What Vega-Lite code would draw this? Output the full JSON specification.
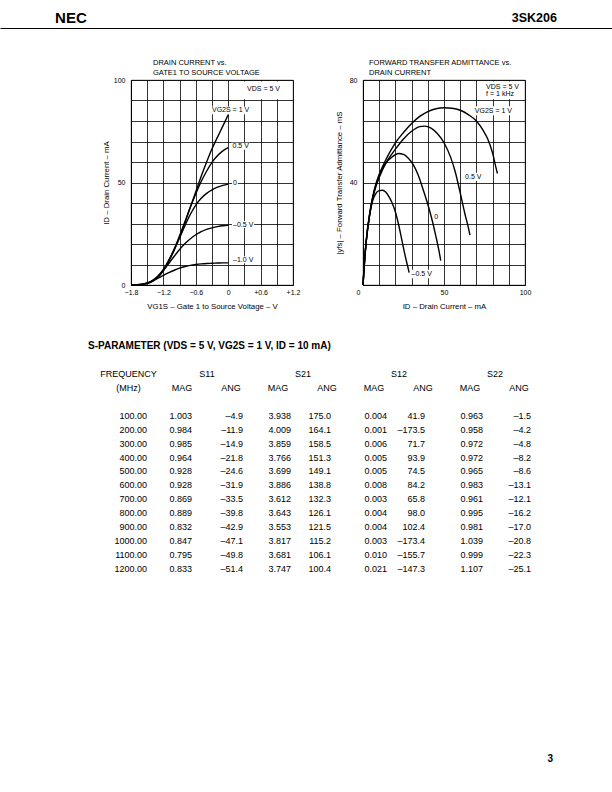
{
  "$schema": "https://vega.github.io/schema/vega-lite/v6.json",
  "padding": 0,
  "background": "white",
  "spacing": 30,
  "bounds": "full",
  "datasets": {
    "curves1": [
      {"s":"1 V","v":-1.8,"i":0},{"s":"1 V","v":-1.6,"i":0.2},{"s":"1 V","v":-1.5,"i":0.7},{"s":"1 V","v":-1.4,"i":1.8},{"s":"1 V","v":-1.3,"i":3.8},{"s":"1 V","v":-1.2,"i":7},{"s":"1 V","v":-1.1,"i":11.5},{"s":"1 V","v":-1.0,"i":17},{"s":"1 V","v":-0.9,"i":23.5},{"s":"1 V","v":-0.8,"i":30.5},{"s":"1 V","v":-0.7,"i":38},{"s":"1 V","v":-0.6,"i":45.5},{"s":"1 V","v":-0.5,"i":53},{"s":"1 V","v":-0.4,"i":60},{"s":"1 V","v":-0.3,"i":66.5},{"s":"1 V","v":-0.2,"i":72},{"s":"1 V","v":-0.1,"i":77.5},{"s":"1 V","v":0,"i":83},
      {"s":"0.5 V","v":-1.8,"i":0},{"s":"0.5 V","v":-1.6,"i":0.2},{"s":"0.5 V","v":-1.5,"i":0.8},{"s":"0.5 V","v":-1.4,"i":2},{"s":"0.5 V","v":-1.3,"i":4},{"s":"0.5 V","v":-1.2,"i":7.3},{"s":"0.5 V","v":-1.1,"i":12},{"s":"0.5 V","v":-1.0,"i":17.5},{"s":"0.5 V","v":-0.9,"i":24},{"s":"0.5 V","v":-0.8,"i":31},{"s":"0.5 V","v":-0.7,"i":38},{"s":"0.5 V","v":-0.6,"i":44.5},{"s":"0.5 V","v":-0.5,"i":50.5},{"s":"0.5 V","v":-0.4,"i":55.5},{"s":"0.5 V","v":-0.3,"i":59.8},{"s":"0.5 V","v":-0.2,"i":63},{"s":"0.5 V","v":-0.1,"i":65.4},{"s":"0.5 V","v":0,"i":67},
      {"s":"0 V","v":-1.8,"i":0},{"s":"0 V","v":-1.6,"i":0.3},{"s":"0 V","v":-1.5,"i":0.9},{"s":"0 V","v":-1.4,"i":2.2},{"s":"0 V","v":-1.3,"i":4.3},{"s":"0 V","v":-1.2,"i":7.6},{"s":"0 V","v":-1.1,"i":12},{"s":"0 V","v":-1.0,"i":17.3},{"s":"0 V","v":-0.9,"i":23},{"s":"0 V","v":-0.8,"i":29},{"s":"0 V","v":-0.7,"i":34.5},{"s":"0 V","v":-0.6,"i":39},{"s":"0 V","v":-0.5,"i":42.3},{"s":"0 V","v":-0.4,"i":44.7},{"s":"0 V","v":-0.3,"i":46.4},{"s":"0 V","v":-0.2,"i":47.7},{"s":"0 V","v":-0.1,"i":48.6},{"s":"0 V","v":0,"i":49.2},
      {"s":"-0.5 V","v":-1.8,"i":0},{"s":"-0.5 V","v":-1.6,"i":0.3},{"s":"-0.5 V","v":-1.5,"i":1},{"s":"-0.5 V","v":-1.4,"i":2.3},{"s":"-0.5 V","v":-1.3,"i":4.4},{"s":"-0.5 V","v":-1.2,"i":7.2},{"s":"-0.5 V","v":-1.1,"i":10.5},{"s":"-0.5 V","v":-1.0,"i":14},{"s":"-0.5 V","v":-0.9,"i":17.3},{"s":"-0.5 V","v":-0.8,"i":20.2},{"s":"-0.5 V","v":-0.7,"i":22.6},{"s":"-0.5 V","v":-0.6,"i":24.5},{"s":"-0.5 V","v":-0.5,"i":26},{"s":"-0.5 V","v":-0.4,"i":27.1},{"s":"-0.5 V","v":-0.3,"i":27.9},{"s":"-0.5 V","v":-0.2,"i":28.5},{"s":"-0.5 V","v":-0.1,"i":28.9},{"s":"-0.5 V","v":0,"i":29.1},
      {"s":"-1.0 V","v":-1.8,"i":0},{"s":"-1.0 V","v":-1.6,"i":0.4},{"s":"-1.0 V","v":-1.5,"i":1},{"s":"-1.0 V","v":-1.4,"i":2},{"s":"-1.0 V","v":-1.3,"i":3.3},{"s":"-1.0 V","v":-1.2,"i":4.7},{"s":"-1.0 V","v":-1.1,"i":6},{"s":"-1.0 V","v":-1.0,"i":7.2},{"s":"-1.0 V","v":-0.9,"i":8.2},{"s":"-1.0 V","v":-0.8,"i":9},{"s":"-1.0 V","v":-0.7,"i":9.6},{"s":"-1.0 V","v":-0.6,"i":10},{"s":"-1.0 V","v":-0.5,"i":10.3},{"s":"-1.0 V","v":-0.4,"i":10.5},{"s":"-1.0 V","v":-0.3,"i":10.6},{"s":"-1.0 V","v":-0.2,"i":10.7},{"s":"-1.0 V","v":-0.1,"i":10.8},{"s":"-1.0 V","v":0,"i":10.8}
    ],
    "labels1": [
      {"t":"VDS = 5 V","x":0.35,"y":95.4},
      {"t":"VG2S = 1 V","x":-0.3,"y":85.2},
      {"t":"0.5 V","x":0.08,"y":67.7},
      {"t":"0","x":0.09,"y":50},
      {"t":"–0.5 V","x":0.09,"y":29.5},
      {"t":"–1.0 V","x":0.09,"y":12.3}
    ],
    "boxes1": [
      {"x1":0.27,"x2":1.185,"y1":90.6,"y2":99.3},
      {"x1":-0.32,"x2":0.4,"y1":83.3,"y2":87.1},
      {"x1":0.06,"x2":0.4,"y1":66,"y2":69.4},
      {"x1":0.07,"x2":0.18,"y1":48.3,"y2":51.7},
      {"x1":0.07,"x2":0.48,"y1":27.8,"y2":31.2},
      {"x1":0.07,"x2":0.48,"y1":10.6,"y2":14}
    ],
    "curves2": [
      {"s":"1 V","d":0,"y":0},{"s":"1 V","d":1,"y":10},{"s":"1 V","d":2,"y":17.5},{"s":"1 V","d":4,"y":27},{"s":"1 V","d":6,"y":34},{"s":"1 V","d":8,"y":39},{"s":"1 V","d":10,"y":43},{"s":"1 V","d":15,"y":50},{"s":"1 V","d":20,"y":55.5},{"s":"1 V","d":25,"y":59.5},{"s":"1 V","d":30,"y":63},{"s":"1 V","d":35,"y":65.8},{"s":"1 V","d":40,"y":67.7},{"s":"1 V","d":45,"y":68.8},{"s":"1 V","d":50,"y":69.2},{"s":"1 V","d":55,"y":69},{"s":"1 V","d":60,"y":68.2},{"s":"1 V","d":65,"y":66.5},{"s":"1 V","d":70,"y":64},{"s":"1 V","d":74,"y":60.5},{"s":"1 V","d":77,"y":57},{"s":"1 V","d":80,"y":51.5},{"s":"1 V","d":82,"y":46},{"s":"1 V","d":83,"y":43.5},
      {"s":"0.5 V","d":0,"y":0},{"s":"0.5 V","d":1,"y":9.5},{"s":"0.5 V","d":2,"y":17},{"s":"0.5 V","d":4,"y":27},{"s":"0.5 V","d":6,"y":34},{"s":"0.5 V","d":8,"y":38.5},{"s":"0.5 V","d":10,"y":42},{"s":"0.5 V","d":15,"y":48.5},{"s":"0.5 V","d":20,"y":53},{"s":"0.5 V","d":25,"y":57},{"s":"0.5 V","d":30,"y":60},{"s":"0.5 V","d":35,"y":61.8},{"s":"0.5 V","d":38,"y":62},{"s":"0.5 V","d":42,"y":61.2},{"s":"0.5 V","d":46,"y":59},{"s":"0.5 V","d":50,"y":55.5},{"s":"0.5 V","d":54,"y":50},{"s":"0.5 V","d":57,"y":44},{"s":"0.5 V","d":60,"y":36},{"s":"0.5 V","d":63,"y":27.5},{"s":"0.5 V","d":65,"y":22.5},{"s":"0.5 V","d":66,"y":19.5},
      {"s":"0 V","d":0,"y":0},{"s":"0 V","d":1,"y":9.5},{"s":"0 V","d":2,"y":17},{"s":"0 V","d":4,"y":27.5},{"s":"0 V","d":6,"y":34.5},{"s":"0 V","d":8,"y":39.5},{"s":"0 V","d":10,"y":43},{"s":"0 V","d":14,"y":47.5},{"s":"0 V","d":18,"y":50},{"s":"0 V","d":22,"y":51.3},{"s":"0 V","d":25,"y":51},{"s":"0 V","d":28,"y":49.5},{"s":"0 V","d":31,"y":47},{"s":"0 V","d":34,"y":43},{"s":"0 V","d":37,"y":37.5},{"s":"0 V","d":40,"y":31.5},{"s":"0 V","d":43,"y":24.5},{"s":"0 V","d":45,"y":19},{"s":"0 V","d":47,"y":13},{"s":"0 V","d":48,"y":9.5},
      {"s":"-0.5 V","d":0,"y":0},{"s":"-0.5 V","d":1,"y":10},{"s":"-0.5 V","d":2,"y":17},{"s":"-0.5 V","d":4,"y":27},{"s":"-0.5 V","d":6,"y":33},{"s":"-0.5 V","d":8,"y":35.8},{"s":"-0.5 V","d":10,"y":36.8},{"s":"-0.5 V","d":12,"y":37},{"s":"-0.5 V","d":14,"y":36.3},{"s":"-0.5 V","d":16,"y":34.5},{"s":"-0.5 V","d":18,"y":32},{"s":"-0.5 V","d":20,"y":28.5},{"s":"-0.5 V","d":22,"y":23.5},{"s":"-0.5 V","d":24,"y":17.5},{"s":"-0.5 V","d":26,"y":11.5},{"s":"-0.5 V","d":27.5,"y":7.5},{"s":"-0.5 V","d":28.5,"y":4.8}
    ],
    "labels2": [
      {"t":"VDS = 5 V","x":76,"y":77.2},
      {"t":"f = 1 kHz","x":76,"y":74.4},
      {"t":"VG2S = 1 V","x":69,"y":68},
      {"t":"0.5 V","x":63,"y":42.2},
      {"t":"0","x":44,"y":26.7},
      {"t":"–0.5 V","x":30,"y":4.3}
    ],
    "boxes2": [
      {"x1":71.5,"x2":99.3,"y1":72.5,"y2":79.4},
      {"x1":68,"x2":93,"y1":66.2,"y2":69.8},
      {"x1":62,"x2":74.5,"y1":40.6,"y2":43.8},
      {"x1":43.2,"x2":47,"y1":25,"y2":28.4},
      {"x1":29,"x2":43,"y1":2.6,"y2":6}
    ],
    "sparams": [
      {"line":5,"freq":"100.00","m11":"1.003","a11":"–4.9","m21":"3.938","a21":"175.0","m12":"0.004","a12":"41.9","m22":"0.963","a22":"–1.5"},
      {"line":6,"freq":"200.00","m11":"0.984","a11":"–11.9","m21":"4.009","a21":"164.1","m12":"0.001","a12":"–173.5","m22":"0.958","a22":"–4.2"},
      {"line":7,"freq":"300.00","m11":"0.985","a11":"–14.9","m21":"3.859","a21":"158.5","m12":"0.006","a12":"71.7","m22":"0.972","a22":"–4.8"},
      {"line":8,"freq":"400.00","m11":"0.964","a11":"–21.8","m21":"3.766","a21":"151.3","m12":"0.005","a12":"93.9","m22":"0.972","a22":"–8.2"},
      {"line":9,"freq":"500.00","m11":"0.928","a11":"–24.6","m21":"3.699","a21":"149.1","m12":"0.005","a12":"74.5","m22":"0.965","a22":"–8.6"},
      {"line":10,"freq":"600.00","m11":"0.928","a11":"–31.9","m21":"3.886","a21":"138.8","m12":"0.008","a12":"84.2","m22":"0.983","a22":"–13.1"},
      {"line":11,"freq":"700.00","m11":"0.869","a11":"–33.5","m21":"3.612","a21":"132.3","m12":"0.003","a12":"65.8","m22":"0.961","a22":"–12.1"},
      {"line":12,"freq":"800.00","m11":"0.889","a11":"–39.8","m21":"3.643","a21":"126.1","m12":"0.004","a12":"98.0","m22":"0.995","a22":"–16.2"},
      {"line":13,"freq":"900.00","m11":"0.832","a11":"–42.9","m21":"3.553","a21":"121.5","m12":"0.004","a12":"102.4","m22":"0.981","a22":"–17.0"},
      {"line":14,"freq":"1000.00","m11":"0.847","a11":"–47.1","m21":"3.817","a21":"115.2","m12":"0.003","a12":"–173.4","m22":"1.039","a22":"–20.8"},
      {"line":15,"freq":"1100.00","m11":"0.795","a11":"–49.8","m21":"3.681","a21":"106.1","m12":"0.010","a12":"–155.7","m22":"0.999","a22":"–22.3"},
      {"line":16,"freq":"1200.00","m11":"0.833","a11":"–51.4","m21":"3.747","a21":"100.4","m12":"0.021","a12":"–147.3","m22":"1.107","a22":"–25.1"}
    ],
    "freqHead": [
      {"line":2,"col":"freq","t":"FREQUENCY"},
      {"line":3,"col":"freq","t":"(MHz)"}
    ],
    "sHead": [
      {"line":2,"col":"m11","t":"S11"},
      {"line":2,"col":"m21","t":"S21"},
      {"line":2,"col":"m12","t":"S12"},
      {"line":2,"col":"m22","t":"S22"}
    ],
    "magHead": [
      {"line":3,"col":"m11","t":"MAG"},
      {"line":3,"col":"m21","t":"MAG"},
      {"line":3,"col":"m12","t":"MAG"},
      {"line":3,"col":"m22","t":"MAG"}
    ],
    "angHead": [
      {"line":3,"col":"a11","t":"ANG"},
      {"line":3,"col":"a21","t":"ANG"},
      {"line":3,"col":"a12","t":"ANG"},
      {"line":3,"col":"a22","t":"ANG"}
    ],
    "tableTitle": [
      {"line":0,"col":"freq","t":"S-PARAMETER (VDS = 5 V, VG2S = 1 V, ID = 10 mA)"}
    ]
  },
  "vconcat": [
    {
      "width": 612,
      "height": 28,
      "data": {"values": [{"slot":"left","t":"NEC"},{"slot":"right","t":"3SK206"}]},
      "layer": [
        {
          "transform": [{"filter": "datum.slot === 'left'"}],
          "mark": {"type":"text","align":"left","baseline":"middle","dy":4,"fontSize":15,"fontWeight":"bold"},
          "encoding": {
            "x": {"field":"slot","type":"nominal","scale":{"type":"point","domain":["left","right"],"padding":0.1098},
                  "axis":{"orient":"bottom","title":null,"labels":false,"ticks":false,"grid":false,"domain":true,"domainColor":"black","domainWidth":1.2}},
            "text": {"field":"t"}
          }
        },
        {
          "transform": [{"filter": "datum.slot === 'right'"}],
          "mark": {"type":"text","align":"right","baseline":"middle","dy":4,"fontSize":12.5,"fontWeight":"bold"},
          "encoding": {
            "x": {"field":"slot","type":"nominal"},
            "text": {"field":"t"}
          }
        }
      ]
    },
    {
      "hconcat": [
        {
          "width": 61,
          "height": 205,
          "data": {"values": [{"a":1}]},
          "mark": {"type":"text","text":""},
          "encoding": {}
        },
        {
          "width": 162,
          "height": 205,
          "view": {"stroke":"black","strokeWidth":0.8},
          "title": {"text": ["DRAIN CURRENT vs.", "GATE1 TO SOURCE VOLTAGE"], "anchor":"start", "frame":"group", "dx":22, "lineHeight":10, "offset":0},
          "layer": [
            {
              "data": {"name":"boxes1"},
              "mark": {"type":"rect","fill":"white"},
              "encoding": {
                "x": {"field":"x1","type":"quantitative","scale":{"domain":[-1.8,1.2],"nice":false,"zero":false},
                      "axis":{"values":[-1.8,-1.5,-1.2,-0.9,-0.6,-0.3,0,0.3,0.6,0.9,1.2],"tickCount":100,"grid":true,
                              "labelExpr":"abs(round(datum.value*10)) % 6 === 0 ? (datum.value > 0.01 ? '+' + format(datum.value, '.1f') : (datum.value < -0.01 ? '−' + format(-datum.value, '.1f') : '0')) : ''",
                              "labelPadding":3,"title":"VG1S – Gate 1 to Source Voltage – V","titlePadding":7}},
                "x2": {"field":"x2"},
                "y": {"field":"y1","type":"quantitative","scale":{"domain":[0,100],"nice":false,"zero":false},
                      "axis":{"values":[0,10,20,30,40,50,60,70,80,90,100],"tickCount":100,"grid":true,
                              "labelExpr":"datum.value % 50 === 0 ? datum.label : ''",
                              "labelPadding":6,"title":"ID – Drain Current – mA","titlePadding":3}},
                "y2": {"field":"y2"}
              }
            },
            {
              "data": {"name":"curves1"},
              "mark": {"type":"line","interpolate":"monotone","color":"black","strokeWidth":1.4},
              "encoding": {
                "x": {"field":"v","type":"quantitative"},
                "y": {"field":"i","type":"quantitative"},
                "detail": {"field":"s"}
              }
            },
            {
              "data": {"name":"labels1"},
              "mark": {"type":"text","align":"left","baseline":"middle","fontSize":7},
              "encoding": {
                "x": {"field":"x","type":"quantitative"},
                "y": {"field":"y","type":"quantitative"},
                "text": {"field":"t"}
              }
            }
          ]
        },
        {
          "width": 162,
          "height": 205,
          "view": {"stroke":"black","strokeWidth":0.8},
          "title": {"text": ["FORWARD TRANSFER ADMITTANCE vs.", "DRAIN CURRENT"], "anchor":"start", "frame":"group", "dx":6, "lineHeight":10, "offset":0},
          "layer": [
            {
              "data": {"name":"boxes2"},
              "mark": {"type":"rect","fill":"white"},
              "encoding": {
                "x": {"field":"x1","type":"quantitative","scale":{"domain":[0,100],"nice":false,"zero":false},
                      "axis":{"values":[0,10,20,30,40,50,60,70,80,90,100],"tickCount":100,"grid":true,
                              "labelExpr":"datum.value % 50 === 0 ? datum.label : ''",
                              "labelOffset":{"condition":{"test":"datum.value === 0","value":-5},"value":0},
                              "labelPadding":3,"title":"ID – Drain Current – mA","titlePadding":7}},
                "x2": {"field":"x2"},
                "y": {"field":"y1","type":"quantitative","scale":{"domain":[0,80],"nice":false,"zero":false},
                      "axis":{"values":[0,8,16,24,32,40,48,56,64,72,80],"tickCount":100,"grid":true,
                              "labelExpr":"(datum.value === 40 || datum.value === 80) ? datum.label : ''",
                              "labelPadding":6,"title":"|yfs| – Forward Transfer Admittance – mS","titlePadding":6}},
                "y2": {"field":"y2"}
              }
            },
            {
              "data": {"name":"curves2"},
              "mark": {"type":"line","interpolate":"monotone","color":"black","strokeWidth":1.4},
              "encoding": {
                "x": {"field":"d","type":"quantitative"},
                "y": {"field":"y","type":"quantitative"},
                "detail": {"field":"s"}
              }
            },
            {
              "data": {"name":"labels2"},
              "mark": {"type":"text","align":"left","baseline":"middle","fontSize":7},
              "encoding": {
                "x": {"field":"x","type":"quantitative"},
                "y": {"field":"y","type":"quantitative"},
                "text": {"field":"t"}
              }
            }
          ]
        }
      ],
      "spacing": 70,
      "bounds": "flush"
    },
    {
      "hconcat": [
        {
          "width": 147,
          "height": 380,
          "data": {"values": [{"a":1}]},
          "mark": {"type":"text","text":""},
          "encoding": {}
        },
        {
          "width": 384,
          "height": 380,
          "layer": [
            {
              "data": {"name":"sparams"},
              "transform": [
                {"fold": ["freq","m11","a11","m21","a21","m12","a12","m22","a22"], "as": ["col","t"]},
                {"filter": "datum.col !== 'm11' && datum.col !== 'a21' && datum.col !== 'a12'"}
              ],
              "mark": {"type":"text","align":"right","baseline":"middle","fontSize":9},
              "encoding": {
                "x": {"field":"col","type":"nominal","scale":{"type":"point","domain":["freq","m11","a11","m21","a21","m12","a12","m22","a22"],"padding":0},"axis":null},
                "y": {"field":"line","type":"quantitative","scale":{"domain":[-0.36,26.9],"reverse":true,"nice":false,"zero":false},"axis":null},
                "text": {"field":"t"}
              }
            },
            {
              "data": {"name":"sparams"},
              "transform": [{"fold": ["m11"], "as": ["col","t"]}],
              "mark": {"type":"text","align":"right","baseline":"middle","fontSize":9,"dx":-3},
              "encoding": {
                "x": {"field":"col","type":"nominal"},
                "y": {"field":"line","type":"quantitative"},
                "text": {"field":"t"}
              }
            },
            {
              "data": {"name":"sparams"},
              "transform": [{"fold": ["a21"], "as": ["col","t"]}],
              "mark": {"type":"text","align":"right","baseline":"middle","fontSize":9,"dx":-8},
              "encoding": {
                "x": {"field":"col","type":"nominal"},
                "y": {"field":"line","type":"quantitative"},
                "text": {"field":"t"}
              }
            },
            {
              "data": {"name":"sparams"},
              "transform": [{"fold": ["a12"], "as": ["col","t"]}],
              "mark": {"type":"text","align":"right","baseline":"middle","fontSize":9,"dx":-10},
              "encoding": {
                "x": {"field":"col","type":"nominal"},
                "y": {"field":"line","type":"quantitative"},
                "text": {"field":"t"}
              }
            },
            {
              "data": {"name":"freqHead"},
              "mark": {"type":"text","align":"center","baseline":"middle","fontSize":9,"dx":-18.5},
              "encoding": {
                "x": {"field":"col","type":"nominal"},
                "y": {"field":"line","type":"quantitative"},
                "text": {"field":"t"}
              }
            },
            {
              "data": {"name":"sHead"},
              "mark": {"type":"text","align":"center","baseline":"middle","fontSize":9,"dx":12},
              "encoding": {
                "x": {"field":"col","type":"nominal"},
                "y": {"field":"line","type":"quantitative"},
                "text": {"field":"t"}
              }
            },
            {
              "data": {"name":"magHead"},
              "mark": {"type":"text","align":"center","baseline":"middle","fontSize":9,"dx":-13},
              "encoding": {
                "x": {"field":"col","type":"nominal"},
                "y": {"field":"line","type":"quantitative"},
                "text": {"field":"t"}
              }
            },
            {
              "data": {"name":"angHead"},
              "mark": {"type":"text","align":"center","baseline":"middle","fontSize":9,"dx":-12},
              "encoding": {
                "x": {"field":"col","type":"nominal"},
                "y": {"field":"line","type":"quantitative"},
                "text": {"field":"t"}
              }
            },
            {
              "data": {"name":"tableTitle"},
              "mark": {"type":"text","align":"left","baseline":"middle","fontSize":10,"fontWeight":"bold","dx":-59},
              "encoding": {
                "x": {"field":"col","type":"nominal"},
                "y": {"field":"line","type":"quantitative"},
                "text": {"field":"t"}
              }
            }
          ]
        }
      ],
      "spacing": 0,
      "bounds": "flush"
    },
    {
      "width": 612,
      "height": 16,
      "data": {"values": [{"slot":"right","t":"3"}]},
      "mark": {"type":"text","align":"right","baseline":"middle","fontSize":10,"fontWeight":"bold"},
      "encoding": {
        "x": {"field":"slot","type":"nominal","scale":{"type":"point","domain":["left","right"],"padding":0.1194},"axis":null},
        "text": {"field":"t"}
      }
    }
  ],
  "config": {
    "font": "Liberation Sans",
    "view": {"stroke": null},
    "axis": {"domainColor":"black","domainWidth":0.8,"gridColor":"black","gridOpacity":1,"gridWidth":0.8,"ticks":false,"tickSize":0,
             "labelFont":"Liberation Sans","labelFontSize":7,"labelColor":"black","labelFlush":false,"labelOverlap":false,
             "titleFont":"Liberation Sans","titleFontSize":7.8,"titleFontWeight":"normal","titleColor":"black"},
    "title": {"font":"Liberation Sans","fontSize":7.5,"fontWeight":"normal","color":"black","anchor":"start","frame":"group"},
    "text": {"font":"Liberation Sans","color":"black"}
  }
}
